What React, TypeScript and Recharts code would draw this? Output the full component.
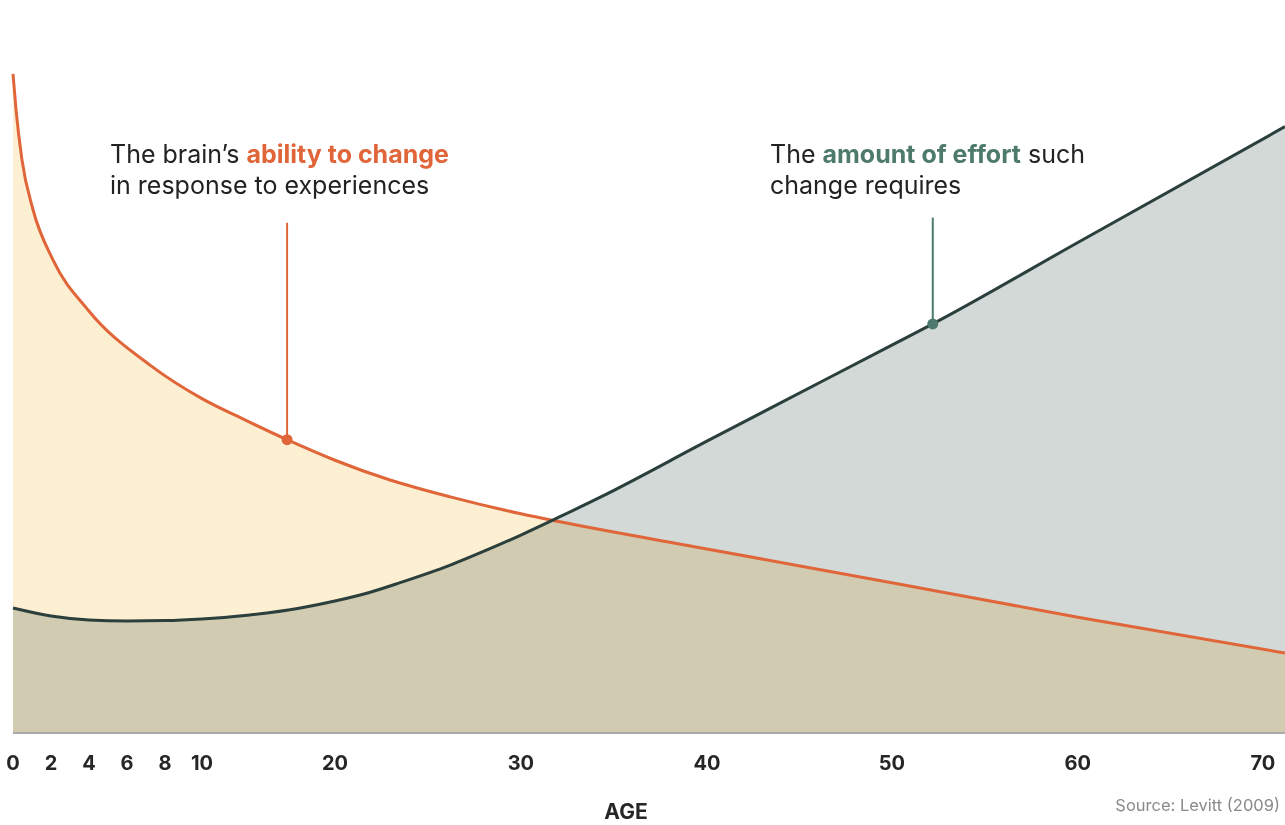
import React from "react";
import { Area, ComposedChart, Line, ReferenceDot, ReferenceLine, XAxis, YAxis } from "recharts";

// axis ticks: the reference spaces ages unevenly, so ticks carry their own positions
const tickAges = [0, 2, 4, 6, 8, 10, 20, 30, 40, 50, 60, 70];
const tickPos = [0, 38, 76, 114, 152, 189, 322, 508, 694, 879, 1065, 1250];

// brain's ability to change (orange)
const abilityAges = [0, 0.16, 0.47, 1.05, 2.11, 3.95, 7.25, 10, 13.23, 16.4, 20, 22.96, 26.2, 30, 32.1, 40, 50, 60, 71.2];
const abilityValues = [89.9, 85.0, 78.2, 71.4, 64.5, 57.7, 50.1, 45.6, 42.7, 40.0, 37.2, 34.5, 32.2, 29.9, 28.8, 25.1, 20.5, 15.8, 10.9];

// amount of effort such change requires (dark)
const effortAges = [0, 2, 4, 6, 8, 10, 13.6, 17.4, 20, 21.9, 23.5, 26.2, 28.3, 30, 32.1, 34.3, 40, 50, 52.2, 60, 71.2];
const effortValues = [17.05, 15.96, 15.42, 15.28, 15.33, 15.55, 16.1, 17.05, 18.0, 19.2, 20.5, 22.9, 25.1, 27.0, 29.5, 32.2, 39.8, 52.9, 55.8, 66.9, 82.7];

const abilityMarker = { age: 16.4, value: 40.0, top: 69.6 };
const effortMarker = { age: 52.2, value: 55.8, top: 70.3 };

const ORANGE = "#e0663a";
const DARK = "#2b3f3c";
const GREEN = "#4d7a6c";
const FONT = "Inter, 'Noto Sans', sans-serif";

// piecewise-linear age -> axis position, following the printed ticks
function agePos(age: number) {
  for (let i = 1; i < tickAges.length; i++) {
    if (age <= tickAges[i]) {
      const t = (age - tickAges[i - 1]) / (tickAges[i] - tickAges[i - 1]);
      return tickPos[i - 1] + t * (tickPos[i] - tickPos[i - 1]);
    }
  }
  const n = tickAges.length - 1;
  const slope = (tickPos[n] - tickPos[n - 1]) / (tickAges[n] - tickAges[n - 1]);
  return tickPos[n] + (age - tickAges[n]) * slope;
}

const abilityData = abilityAges.map((a, i) => ({ x: agePos(a), v: abilityValues[i] }));
const effortData = effortAges.map((a, i) => ({ x: agePos(a), v: effortValues[i] }));

function AgeTick({ x, y, payload }: any) {
  const idx = tickPos.indexOf(payload.value);
  return (
    <text x={x} y={y + 30} textAnchor="middle" dominantBaseline="central" fontFamily={FONT} fontWeight={700} fontSize={20} fill="#262626">
      {idx >= 0 ? tickAges[idx] : ""}
    </text>
  );
}

export default function App() {
  return (
    <div style={{ position: "relative", width: 1285, height: 825, background: "#fff", fontFamily: FONT, overflow: "hidden" }}>
      <style>{`body{margin:0;overflow:hidden}.blend .recharts-area{mix-blend-mode:multiply}`}</style>
      <ComposedChart className="blend" width={1285} height={825} margin={{ top: 13, right: 0, bottom: 62, left: 13 }}>
        <XAxis
          type="number"
          dataKey="x"
          domain={[0, 1272]}
          ticks={tickPos}
          tick={<AgeTick />}
          tickLine={false}
          tickSize={0}
          tickMargin={0}
          height={30}
          axisLine={{ stroke: "#a9a9a9", strokeWidth: 2 }}
        />
        <YAxis type="number" domain={[0, 98.2]} width={0} tick={false} tickLine={false} axisLine={{ stroke: "#a9a9a9", strokeWidth: 2 }} />
        <Area data={abilityData} dataKey="v" type="monotone" stroke="none" fill="#fdefd2" fillOpacity={1} isAnimationActive={false} />
        <Area data={effortData} dataKey="v" type="monotone" stroke="none" fill="#d2d9d7" fillOpacity={1} isAnimationActive={false} />
        <Line data={abilityData} dataKey="v" type="monotone" stroke={ORANGE} strokeWidth={3} dot={false} isAnimationActive={false} />
        <Line data={effortData} dataKey="v" type="monotone" stroke={DARK} strokeWidth={3} dot={false} isAnimationActive={false} />
        <ReferenceLine
          segment={[{ x: agePos(abilityMarker.age), y: abilityMarker.value }, { x: agePos(abilityMarker.age), y: abilityMarker.top }]}
          stroke={ORANGE}
          strokeWidth={2}
        />
        <ReferenceLine
          segment={[{ x: agePos(effortMarker.age), y: effortMarker.value }, { x: agePos(effortMarker.age), y: effortMarker.top }]}
          stroke={GREEN}
          strokeWidth={2}
        />
        <ReferenceDot x={agePos(abilityMarker.age)} y={abilityMarker.value} r={5.5} fill={ORANGE} stroke="none" />
        <ReferenceDot x={agePos(effortMarker.age)} y={effortMarker.value} r={5.5} fill={GREEN} stroke="none" />
      </ComposedChart>

      <div style={{ position: "absolute", left: 110, top: 139, fontSize: 25, lineHeight: "31px", color: "#222", whiteSpace: "nowrap" }}>
        The brain’s <span style={{ color: ORANGE, fontWeight: 700 }}>ability to change</span>
        <br />
        in response to experiences
      </div>
      <div style={{ position: "absolute", left: 770, top: 139, fontSize: 25, lineHeight: "31px", color: "#222", whiteSpace: "nowrap" }}>
        The <span style={{ color: GREEN, fontWeight: 700 }}>amount of effort</span> such
        <br />
        change requires
      </div>
      <div style={{ position: "absolute", left: 626, top: 812, transform: "translate(-50%,-50%)", fontSize: 21, lineHeight: "24px", fontWeight: 700, color: "#262626" }}>
        AGE
      </div>
      <div style={{ position: "absolute", right: 5, top: 795, fontSize: 16.5, color: "#8a8a8a" }}>Source: Levitt (2009)</div>
    </div>
  );
}
